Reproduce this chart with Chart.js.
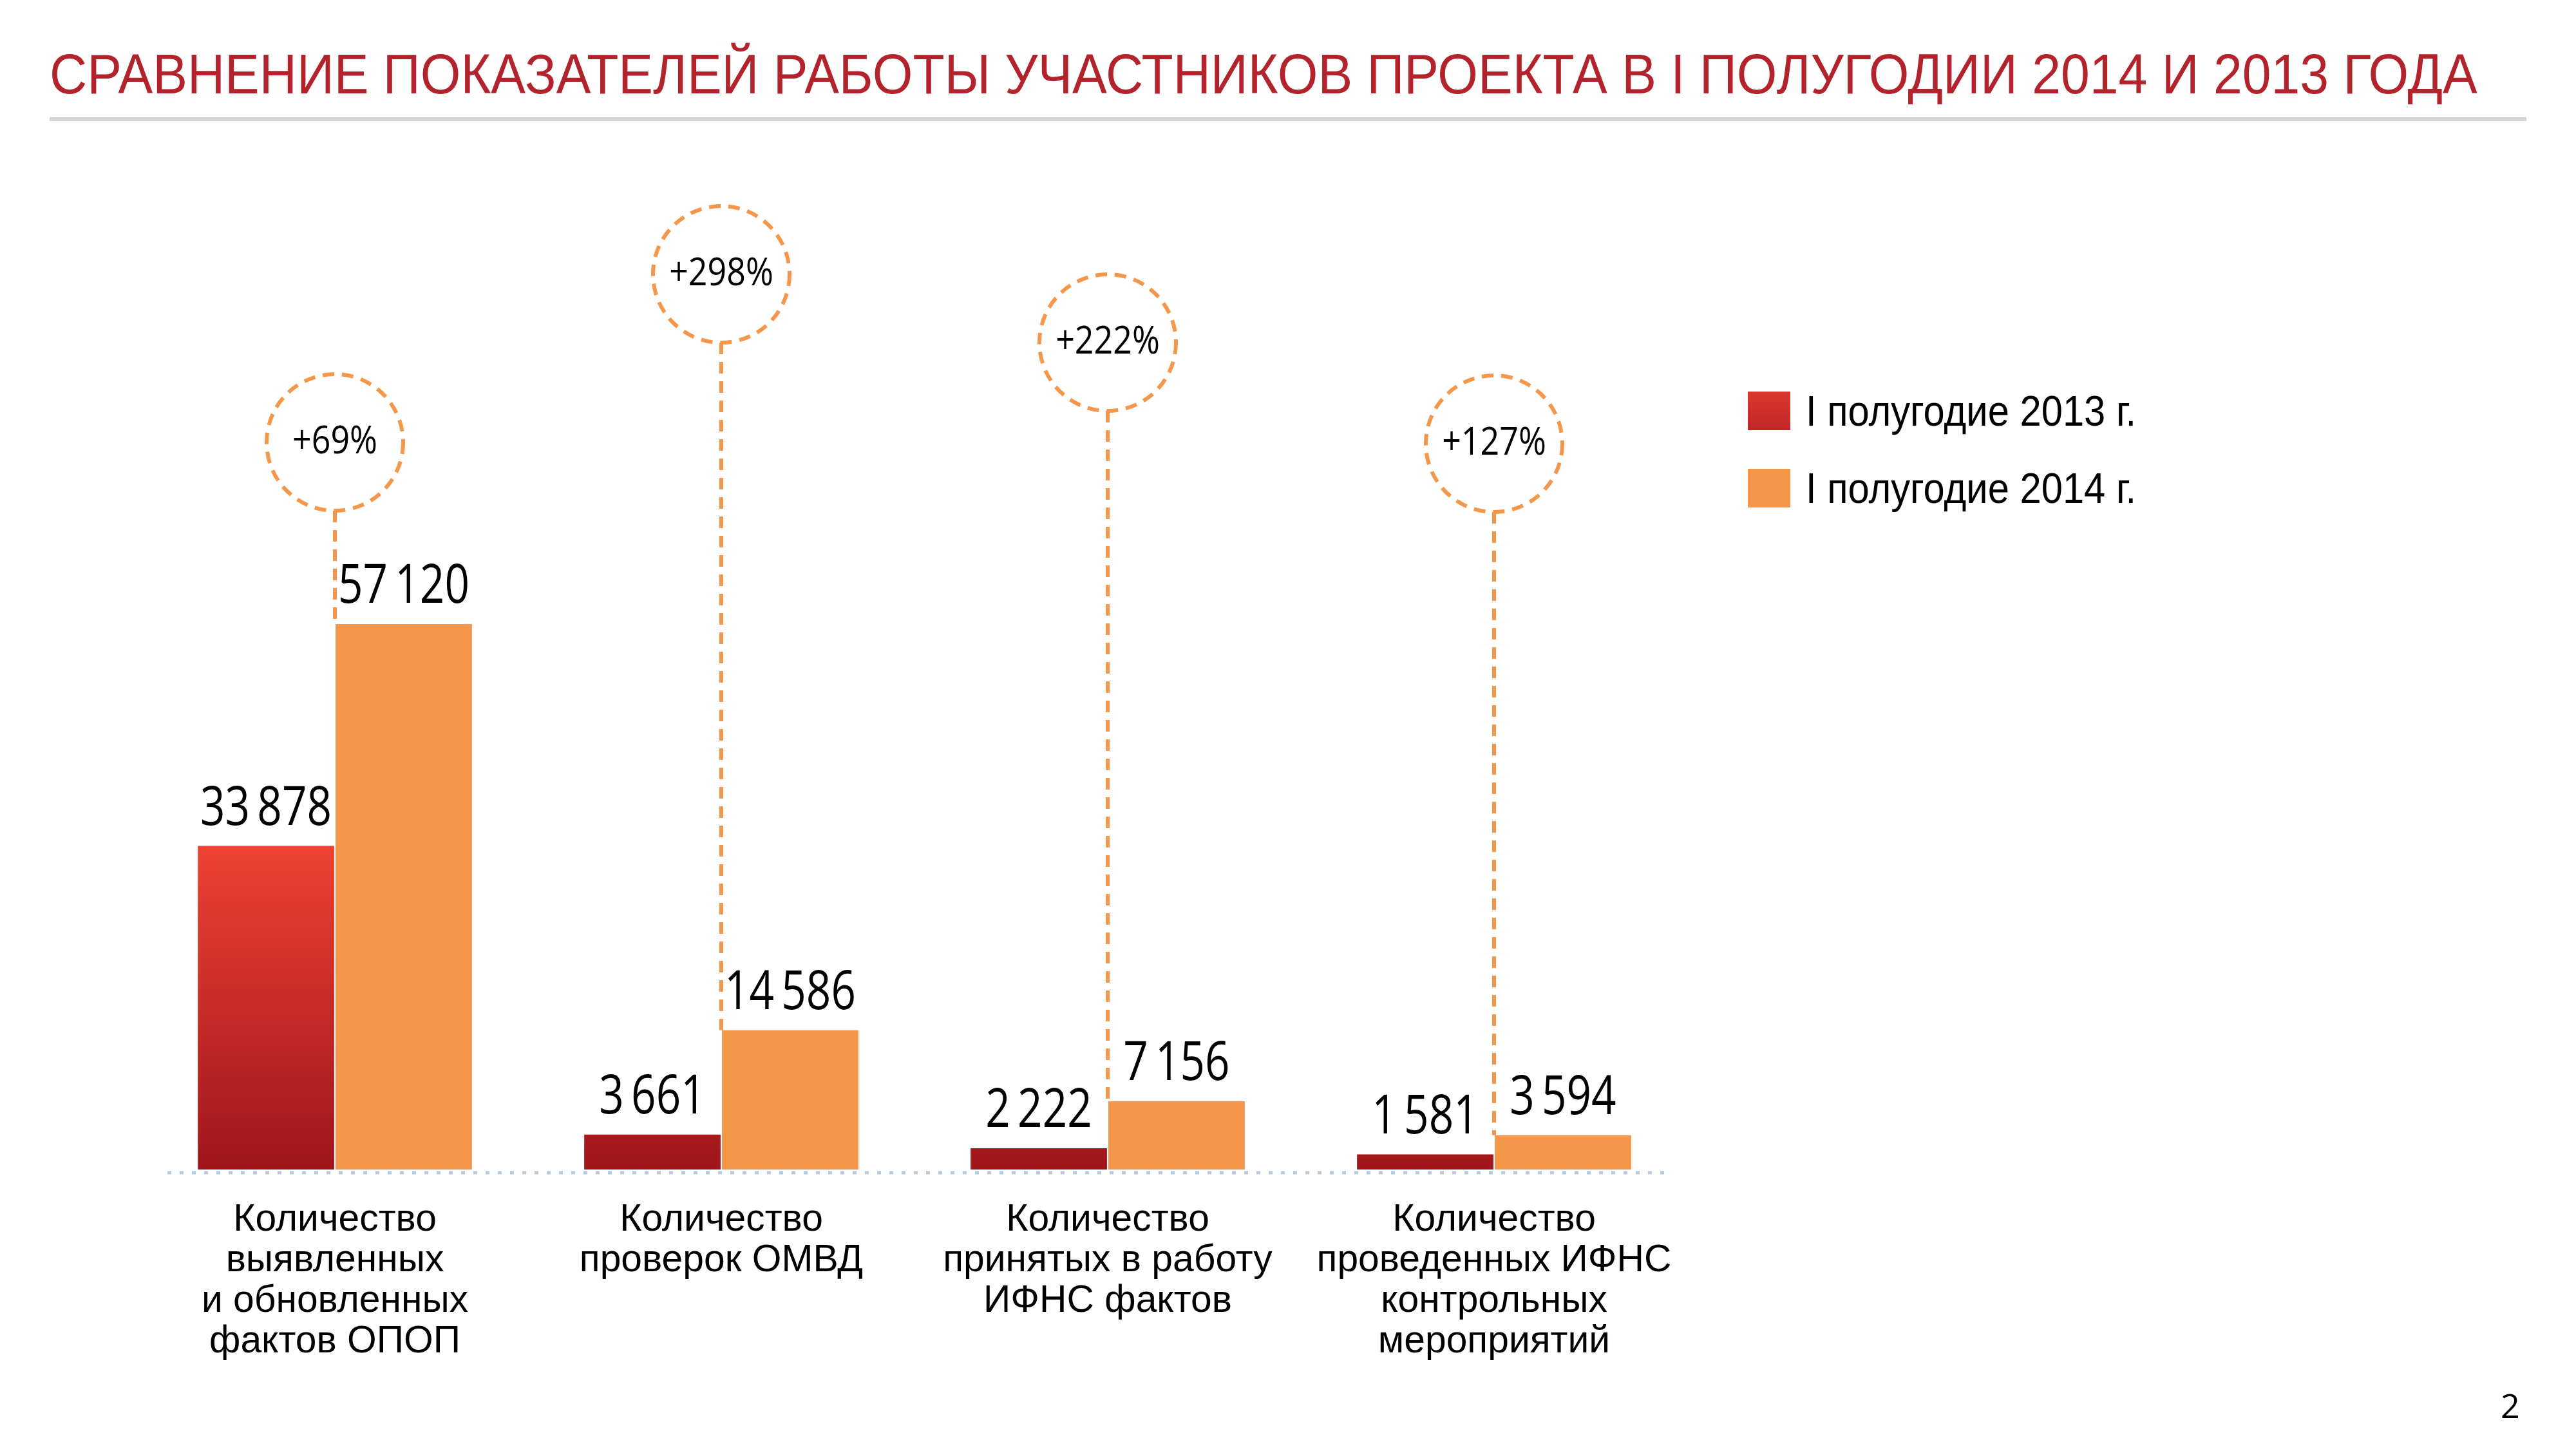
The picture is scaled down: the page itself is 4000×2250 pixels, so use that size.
<!DOCTYPE html>
<html lang="ru">
<head>
<meta charset="utf-8">
<title>Сравнение показателей работы участников проекта</title>
<script src="https://cdn.jsdelivr.net/npm/chart.js@4.4.1/dist/chart.umd.min.js"></script>
<style>
  html, body { margin: 0; padding: 0; background: #fff; }
  body { width: 4000px; height: 2250px; position: relative; overflow: hidden; }
  #chart { position: absolute; left: 0; top: 0; }
  #title { position: absolute; left: 77px; top: 60px; white-space: nowrap; color: #b3232c; font-size: 88px; line-height: 88px; transform-origin: 0 0; }
  #rule { position: absolute; left: 77px; top: 182px; width: 3846px; height: 6px; background: #d4d4d4; }
  #page { position: absolute; left: 3883px; top: 2150px; font-size: 52px; line-height: 52px; color: #000; }
  .bl { display: inline-block; width: 0; height: 0; }
</style>
</head>
<body>
<canvas id="chart" width="4000" height="2250"></canvas>
<div id="title">СРАВНЕНИЕ ПОКАЗАТЕЛЕЙ РАБОТЫ УЧАСТНИКОВ ПРОЕКТА В I ПОЛУГОДИИ 2014 И 2013 ГОДА<span class="bl"></span></div>
<div id="rule"></div>
<div id="page">2<span class="bl"></span></div>
<script>
// data
var categories = [
  ['Количество', 'выявленных', 'и обновленных', 'фактов ОПОП'],
  ['Количество', 'проверок ОМВД'],
  ['Количество', 'принятых в работу', 'ИФНС фактов'],
  ['Количество', 'проведенных ИФНС', 'контрольных', 'мероприятий']
];
var seriesNames = ['I полугодие 2013 г.', 'I полугодие 2014 г.'];
var values2013 = [33878, 3661, 2222, 1581];
var values2014 = [57120, 14586, 7156, 3594];
var growthLabels = ['+69%', '+298%', '+222%', '+127%'];

// fonts: narrow sans for words, rounder face for numbers
var mctx = document.createElement('canvas').getContext('2d');
function textW(font, s) { mctx.font = font; return mctx.measureText(s).width; }
var ff = '"Liberation Sans", Arial, sans-serif';
var nf = '"Open Sans", "Noto Sans", sans-serif';

var tickSize = 62 * 551 / textW('62px ' + ff, 'проведенных ИФНС');
tickSize = Math.max(54, Math.min(64, tickSize));

// horizontal squeeze so that the canvas texts keep the slide's widths
var valueFont = '85px ' + nf, valueSx = 204 / textW(valueFont, '57\u2009120');
var pctFont = '60px ' + nf, pctSx = 132 / textW(pctFont, '+69%');
var legFont = '66px ' + ff, legSx = 513 / textW(legFont, seriesNames[0]);

function fmt(v) { return String(v).replace(/\B(?=(\d{3})+(?!\d))/g, '\u2009'); }
function squeezed(ctx, s, x, y, sx) {
  ctx.save();
  ctx.translate(x, y);
  ctx.scale(sx, 1);
  ctx.fillText(s, 0, 0);
  ctx.restore();
}

// title and page number
function toBaseline(el, baseline) {
  var b = el.querySelector('.bl').getBoundingClientRect().top;
  el.style.top = (el.offsetTop + baseline - b) + 'px';
}
var title = document.getElementById('title');
title.style.fontFamily = ff;
title.style.transform = 'scaleX(' + (3770 / title.offsetWidth) + ')';
toBaseline(title, 145);
var page = document.getElementById('page');
page.style.fontFamily = nf;
toBaseline(page, 2202);

function redFill(c) {
  var ch = c.chart, area = ch.chartArea;
  if (!area) return '#b01d22';
  var top = ch.scales.y.getPixelForValue(Math.max.apply(null, values2013));
  var g = ch.ctx.createLinearGradient(0, top, 0, area.bottom);
  g.addColorStop(0, '#ee4234');
  g.addColorStop(1, '#a0151b');
  return g;
}
var orange = '#f5974a';

var overlay = {
  id: 'overlay',
  afterDatasetsDraw: function(chart, args, opts) {
    var ctx = chart.ctx, area = chart.chartArea;
    var m0 = chart.getDatasetMeta(0), m1 = chart.getDatasetMeta(1);
    ctx.save();
    // dotted base line
    ctx.strokeStyle = '#b4c9d9';
    ctx.lineWidth = 5;
    ctx.setLineDash([6, 13]);
    ctx.beginPath();
    ctx.moveTo(area.left + 40, area.bottom + 5);
    ctx.lineTo(area.right - 30, area.bottom + 5);
    ctx.stroke();
    // dashed circles with growth and leader lines
    ctx.strokeStyle = orange;
    ctx.lineWidth = 6;
    ctx.setLineDash([18, 12]);
    m1.data.forEach(function(bar, i) {
      var red = m0.data[i];
      var cx = (red.x + red.width / 2 + bar.x - bar.width / 2) / 2;
      var cy = opts.circleY[i], r = opts.radius;
      ctx.beginPath();
      ctx.arc(cx, cy, r, 0, Math.PI * 2);
      ctx.stroke();
      ctx.beginPath();
      ctx.moveTo(cx, cy + r);
      ctx.lineTo(cx, bar.y);
      ctx.stroke();
      ctx.fillStyle = '#000';
      ctx.font = pctFont;
      ctx.textAlign = 'center';
      ctx.textBaseline = 'middle';
      squeezed(ctx, growthLabels[i], cx, cy, pctSx);
    });
    // values over bars
    ctx.fillStyle = '#000';
    ctx.font = valueFont;
    ctx.textAlign = 'center';
    ctx.textBaseline = 'alphabetic';
    [m0, m1].forEach(function(meta, d) {
      meta.data.forEach(function(bar, i) {
        squeezed(ctx, fmt(chart.data.datasets[d].data[i]), bar.x, bar.y - 33, valueSx);
      });
    });
    // legend
    ctx.font = legFont;
    ctx.textAlign = 'left';
    ctx.textBaseline = 'middle';
    chart.data.datasets.forEach(function(ds, d) {
      var y = opts.legendY[d];
      var g = ctx.createLinearGradient(0, y - 31, 0, y + 31);
      if (d === 0) { g.addColorStop(0, '#d9392d'); g.addColorStop(1, '#c1262a'); }
      else { g.addColorStop(0, orange); g.addColorStop(1, orange); }
      ctx.fillStyle = g;
      ctx.fillRect(opts.legendX, y - 30, 66, 60);
      ctx.fillStyle = '#000';
      squeezed(ctx, ds.label, opts.legendX + 90, y + 5, legSx);
    });
    ctx.restore();
  }
};

var chart = new Chart(document.getElementById('chart'), {
  type: 'bar',
  data: {
    labels: categories,
    datasets: [
      { label: seriesNames[0], data: values2013, backgroundColor: redFill, categoryPercentage: 0.713, barPercentage: 0.99 },
      { label: seriesNames[1], data: values2014, backgroundColor: orange, categoryPercentage: 0.713, barPercentage: 0.99 }
    ]
  },
  options: {
    responsive: false,
    animation: false,
    devicePixelRatio: 1,
    layout: { padding: { left: 220, right: 1380, top: 333, bottom: 0 } },
    plugins: {
      legend: { display: false },
      tooltip: { enabled: false },
      overlay: { circleY: [687, 426, 532, 689], radius: 106, legendX: 2714, legendY: [638, 758] }
    },
    scales: {
      x: {
        grid: { display: false, drawTicks: false },
        border: { display: false },
        ticks: { color: '#000', padding: 47, maxRotation: 0, autoSkip: false,
                 font: { family: ff, size: tickSize, lineHeight: 63 / tickSize } },
        afterFit: function(s) { s.height = 434; }
      },
      y: { display: false, min: 0, max: 100000 }
    }
  },
  plugins: [overlay]
});
</script>
</body>
</html>
